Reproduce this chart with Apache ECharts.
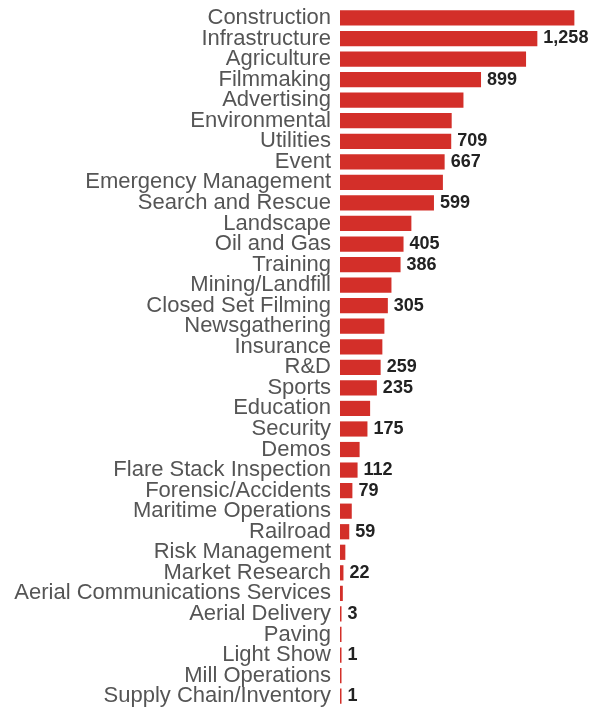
<!DOCTYPE html>
<html>
<head>
<meta charset="utf-8">
<script src="https://cdn.jsdelivr.net/npm/echarts@6/dist/echarts.min.js"></script>
<style>
html,body{margin:0;padding:0;background:#fff;}
#chart{width:593px;height:711px;}
</style>
</head>
<body>
<div id="chart"></div>
<script>
const categories = [
  "Construction","Infrastructure","Agriculture","Filmmaking","Advertising","Environmental",
  "Utilities","Event","Emergency Management","Search and Rescue","Landscape","Oil and Gas",
  "Training","Mining/Landfill","Closed Set Filming","Newsgathering","Insurance","R&D",
  "Sports","Education","Security","Demos","Flare Stack Inspection","Forensic/Accidents",
  "Maritime Operations","Railroad","Risk Management","Market Research",
  "Aerial Communications Services","Aerial Delivery","Paving","Light Show","Mill Operations",
  "Supply Chain/Inventory"
];
const values = [
  1494,1258,1186,899,787,712,
  709,667,656,599,455,405,
  386,328,305,283,270,259,
  235,192,175,125,112,79,
  75,59,34,22,
  18,3,2,1,1,
  1
];
// which bars carry a visible value label in the reference
const labelShown = [
  false,true,false,true,false,false,
  true,true,false,true,false,true,
  true,false,true,false,false,true,
  true,false,true,false,true,true,
  false,true,false,true,
  false,true,false,true,false,
  true
];

const chart = echarts.init(document.getElementById('chart'), null, {renderer:'canvas'});
const fontFam = 'Arial, "Liberation Sans", sans-serif';
chart.setOption({
  animation: false,
  grid: {left: 340, right: 2, top: 7.7, bottom: 4.6, containLabel: false},
  xAxis: {
    type: 'value', min: 0, max: 1600, show: false
  },
  yAxis: {
    type: 'category', data: categories, inverse: true,
    axisLine: {show: false}, axisTick: {show: false}, splitLine: {show: false},
    axisLabel: {
      interval: 0, margin: 9, color: '#555', fontSize: 22, fontFamily: fontFam
    }
  },
  series: [{
    type: 'bar',
    barWidth: '74%',
    barMinHeight: 1.5,
    itemStyle: {color: '#d32f29'},
    data: values.map((v, i) => ({
      value: v,
      label: {
        show: labelShown[i], position: 'right', distance: 6,
        color: '#222', fontSize: 18, fontWeight: 'bold', fontFamily: fontFam,
        formatter: p => p.value.toLocaleString('en-US')
      }
    }))
  }]
});
</script>
</body>
</html>
